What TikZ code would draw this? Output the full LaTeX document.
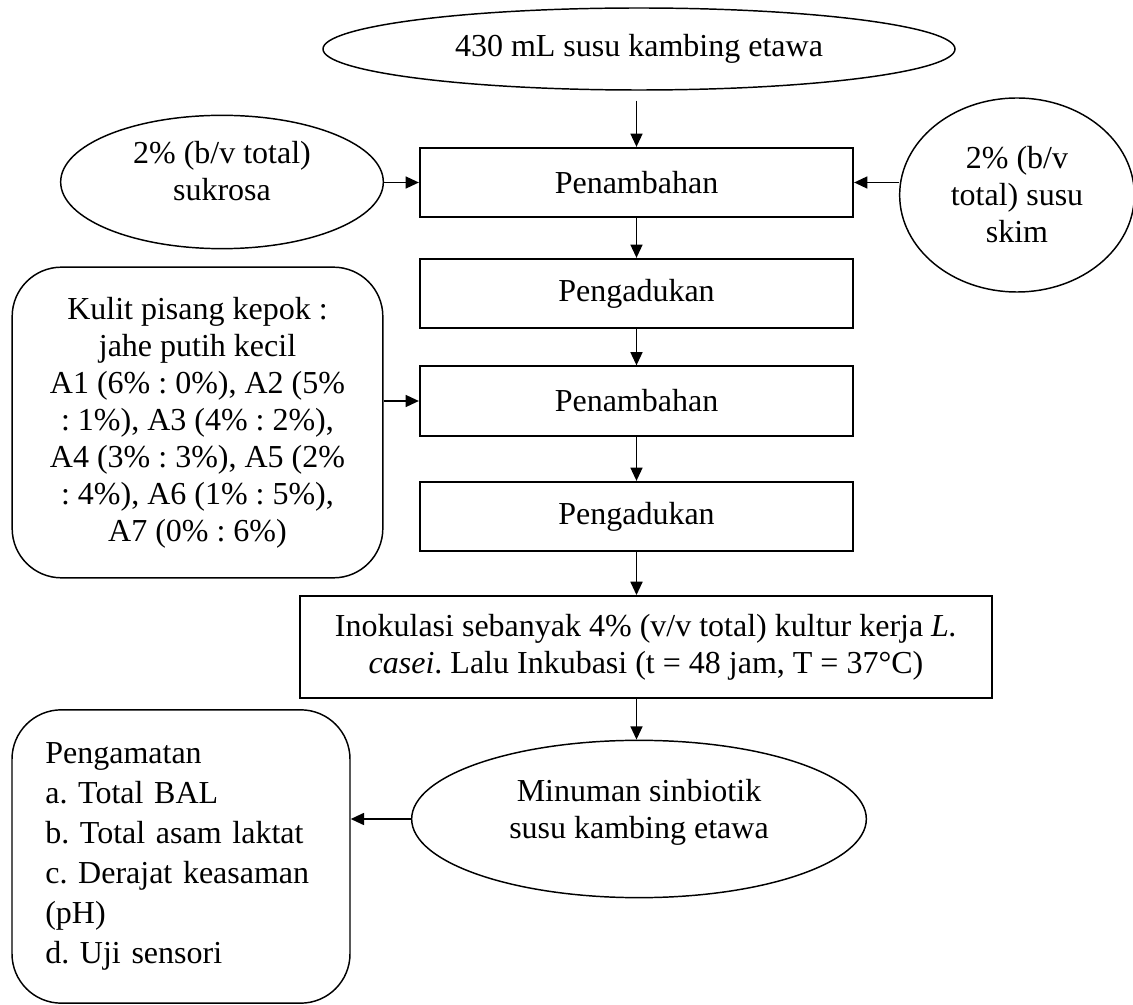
\documentclass[tikz,border=0pt]{standalone}
\usepackage{fontspec}
\setmainfont{Liberation Serif}
\usetikzlibrary{shapes.geometric,arrows.meta}
\begin{document}
\begin{tikzpicture}[x=0.75pt,y=-0.75pt,
  every node/.style={font=\fontsize{24pt}{27.75pt}\selectfont\frenchspacing, inner sep=0pt, align=center},
  proc/.style={draw, line width=1.4pt, minimum width=325pt, minimum height=52pt},
  oval/.style={draw, ellipse, line width=1.1pt},
  rbox/.style={draw, rounded corners=37pt, line width=1.1pt},
  arr/.style={-{Triangle[length=10pt,width=9pt]}, line width=1.3pt}]
\useasboundingbox (0,0) rectangle (1133,1005);
% nodes
\node[oval, minimum width=474pt, minimum height=61.5pt] (milk) at (639,49) {430 mL susu kambing etawa};
\node[oval, minimum width=242pt, minimum height=100pt] (suk) at (222,182) {};
\node (suktxt) at (222,171) {2\% (b/v total)\\sukrosa};
\node[oval, minimum width=176pt, minimum height=145.5pt] (skim) at (1017,195) {2\% (b/v\\total) susu\\skim};
\node[proc] (pen1) at (636.5,182.5) {Penambahan};
\node[proc] (ado1) at (636.5,293.5) {Pengadukan};
\node[proc] (pen2) at (636.5,401) {Penambahan};
\node[proc] (ado2) at (636.5,516.5) {Pengadukan};
\node[rbox, minimum width=278pt, minimum height=233pt] (kulit) at (197.5,422.5)
  {Kulit pisang kepok :\\jahe putih kecil\\A1 (6\% : 0\%), A2 (5\%\\: 1\%), A3 (4\% : 2\%),\\A4 (3\% : 3\%), A5 (2\%\\: 4\%), A6 (1\% : 5\%),\\A7 (0\% : 6\%)};
\node[draw, line width=1.4pt, minimum width=519pt, minimum height=76.5pt] (inok) at (646,647)
  {Inokulasi sebanyak 4\% (v/v total) kultur kerja \textit{L.}\\
   \textit{casei}. Lalu Inkubasi (t = 48 jam, T = 37°C)};
\node[oval, minimum width=341pt, minimum height=118pt] (minum) at (639,819) {};
\node (minumtxt) at (639,812) {Minuman sinbiotik\\susu kambing etawa};
\node[rbox, minimum width=253.5pt, minimum height=220pt, inner xsep=25pt, text width=203.5pt, align=left,
  font=\fontsize{24pt}{30pt}\selectfont\frenchspacing] (obs) at (181,856.5)
  {Pengamatan\\a. Total BAL\\b. Total asam laktat\\c. Derajat keasaman\\(pH)\\d. Uji sensori};
% connectors
\draw[arr, shorten <=7.5pt] (milk.south -| pen1.north) -- (pen1.north);
\draw[arr] (suk.east |- pen1.west) -- (pen1.west);
\draw[arr] (skim.west |- pen1.east) -- (pen1.east);
\draw[arr] (pen1) -- (ado1);
\draw[arr] (ado1) -- (pen2);
\draw[arr] (pen2) -- (ado2);
\draw[arr] (kulit.east |- pen2.west) -- (pen2.west);
\draw[arr] (ado2.south) -- (ado2.south |- inok.north);
\draw[arr] (inok.south -| ado2.south) -- (minum.north -| ado2.south);
\draw[arr] (minum.west) -- (minum.west -| obs.east);
\end{tikzpicture}
\end{document}
